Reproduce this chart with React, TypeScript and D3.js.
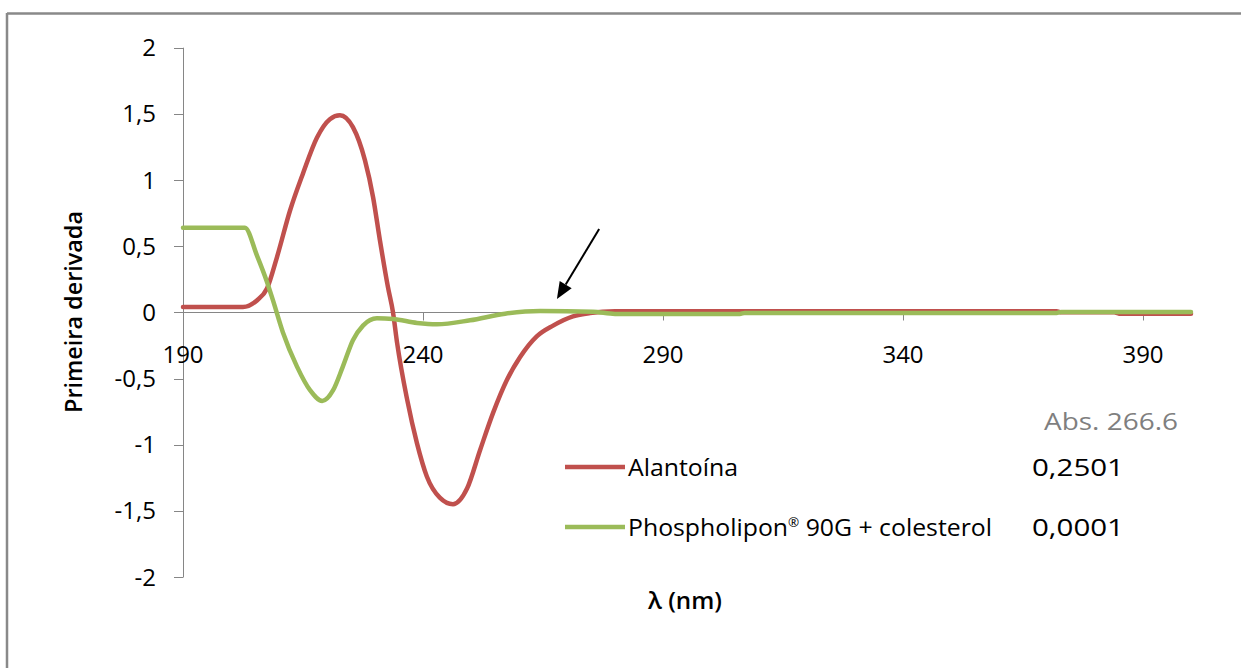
import React from "react";
import * as d3 from "d3";

// Alantoína (first derivative)
const redNm = [190, 202.5, 205.4, 207.5, 209.6, 212.3, 215.0, 217.9, 220.6, 222.7, 225.4, 227.9, 229.6, 231.0, 232.7, 233.75, 234.6, 236.7, 238.75, 240.8, 243.5, 246.25, 249.2, 251.9, 254.6, 257.5, 260.2, 263.75, 267.1, 271.25, 274.8, 280, 372, 373, 384, 385, 400];
const redVal = [0.04, 0.04, 0.09, 0.18, 0.42, 0.77, 1.05, 1.32, 1.46, 1.49, 1.40, 1.15, 0.87, 0.55, 0.19, 0.0, -0.23, -0.66, -0.99, -1.24, -1.40, -1.45, -1.33, -1.04, -0.76, -0.51, -0.34, -0.18, -0.10, -0.03, -0.005, 0.008, 0.008, 0, 0, -0.01, -0.01];

// Phospholipon 90G + colesterol
const greenNm = [190, 202.9, 205.4, 207.5, 208.75, 210.8, 213.75, 216.5, 219.0, 221.25, 223.3, 225.4, 227.5, 230.4, 233.75, 238.75, 242.9, 249.8, 257.1, 264.4, 275.4, 280, 306, 307, 372, 373, 400];
const greenVal = [0.64, 0.64, 0.43, 0.23, 0.09, -0.15, -0.41, -0.59, -0.67, -0.59, -0.41, -0.21, -0.10, -0.045, -0.05, -0.08, -0.09, -0.06, -0.01, 0.01, 0.005, -0.012, -0.012, -0.004, -0.004, 0.003, 0.003];

const xTicks = [190, 240, 290, 340, 390];
const yTicks = [2, 1.5, 1, 0.5, 0, -0.5, -1, -1.5, -2];

const seriesNames = ["Alantoína", "Phospholipon® 90G + colesterol"];
const seriesAbs = ["0,2501", "0,0001"];
const absHeader = "Abs. 266.6";

// arrow annotation (data coords): start -> tip
const arrowStart = [276.7, 0.63];
const arrowTip = [267.9, 0.10];

const RED = "#C0504D";
const GREEN = "#9BBB59";
const AXIS = "#868686";
const FONT = "'Open Sans', 'Liberation Sans', sans-serif";

export default function App() {
  const W = 1241, H = 668;
  const x = d3.scaleLinear().domain([190, 400]).range([183, 1191]);
  const y = d3.scaleLinear().domain([-2, 2]).range([577, 47.7]);

  const line = d3
    .line<[number, number]>()
    .x((d) => x(d[0]))
    .y((d) => y(d[1]))
    .curve(d3.curveMonotoneX);

  const redPts = redNm.map((n, i) => [n, redVal[i]] as [number, number]);
  const greenPts = greenNm.map((n, i) => [n, greenVal[i]] as [number, number]);

  const fmt = (v: number) => String(v).replace(".", ",");

  // arrow geometry
  const sx = x(arrowStart[0]), sy = y(arrowStart[1]);
  const tx = x(arrowTip[0]), ty = y(arrowTip[1]);
  const dx = tx - sx, dy = ty - sy;
  const len = Math.hypot(dx, dy);
  const ux = dx / len, uy = dy / len;
  const hl = 17, hw = 7;
  const bx = tx - hl * ux, by = ty - hl * uy;
  const nx = -uy, ny = ux;

  const y0 = Math.round(y(0)) + 0.5;

  return (
    <svg
      width={W}
      height={H}
      style={{ position: "absolute", left: 0, top: 0, background: "#fff" }}
      fontFamily={FONT}
    >
      <rect x={0} y={0} width={W} height={H} fill="#fff" />
      {/* frame */}
      <line x1={7} y1={13.5} x2={W} y2={13.5} stroke="#898989" strokeWidth={2.5} />
      <line x1={7} y1={13} x2={7} y2={H} stroke="#898989" strokeWidth={2.5} />

      {/* y axis */}
      <line x1={183.5} y1={y(2)} x2={183.5} y2={y(-2)} stroke={AXIS} strokeWidth={1} />
      {yTicks.map((t) => (
        <g key={"y" + t}>
          <line x1={174} x2={183.5} y1={Math.round(y(t)) + 0.5} y2={Math.round(y(t)) + 0.5} stroke={AXIS} />
          <text x={156} y={y(t) + 8.5} textAnchor="end" fontSize={24} fill="#000">
            {fmt(t)}
          </text>
        </g>
      ))}

      {/* x axis */}
      <line x1={183} y1={y0} x2={1191} y2={y0} stroke={AXIS} strokeWidth={1} />
      {xTicks.map((t) => (
        <g key={"x" + t}>
          <line x1={Math.round(x(t)) + 0.5} x2={Math.round(x(t)) + 0.5} y1={y0} y2={y0 + 8} stroke={AXIS} />
          <text x={x(t)} y={362.5} textAnchor="middle" fontSize={24} fill="#000">
            {t}
          </text>
        </g>
      ))}

      {/* series */}
      <path d={line(redPts) || ""} fill="none" stroke={RED} strokeWidth={4.5} strokeLinejoin="round" strokeLinecap="round" />
      <path d={line(greenPts) || ""} fill="none" stroke={GREEN} strokeWidth={4.5} strokeLinejoin="round" strokeLinecap="round" />

      {/* axis titles */}
      <text
        transform="translate(82,312) rotate(-90)"
        textAnchor="middle"
        fontSize={24}
        fontWeight={600}
        textLength={202}
        lengthAdjust="spacingAndGlyphs"
        fill="#000"
      >
        Primeira derivada
      </text>
      <text x={648} y={609} fontSize={24} fontWeight={600} textLength={74} lengthAdjust="spacingAndGlyphs" fill="#000">
        λ (nm)
      </text>

      {/* arrow */}
      <line x1={sx} y1={sy} x2={bx} y2={by} stroke="#000" strokeWidth={2} />
      <polygon
        points={`${tx},${ty} ${bx + hw * nx},${by + hw * ny} ${bx - hw * nx},${by - hw * ny}`}
        fill="#000"
      />

      {/* legend / table */}
      <text x={1044} y={430} fontSize={24} fill="#7F7F7F" textLength={134} lengthAdjust="spacingAndGlyphs">
        {absHeader}
      </text>
      {seriesNames.map((name, i) => {
        const cy = 467 + i * 60;
        const col = i === 0 ? RED : GREEN;
        return (
          <g key={name}>
            <line x1={565} x2={625} y1={cy} y2={cy} stroke={col} strokeWidth={4.5} />
            <text
              x={628}
              y={cy + 8.5}
              fontSize={24}
              fill="#000"
              textLength={i === 0 ? 110 : 364}
              lengthAdjust="spacingAndGlyphs"
            >
              {i === 0 ? (
                name
              ) : (
                <>
                  Phospholipon
                  <tspan fontSize={13} dy={-9}>®</tspan>
                  <tspan dy={9}> 90G + colesterol</tspan>
                </>
              )}
            </text>
            <text x={1032} y={cy + 8.5} fontSize={24} fill="#000" textLength={92} lengthAdjust="spacingAndGlyphs">
              {seriesAbs[i]}
            </text>
          </g>
        );
      })}
    </svg>
  );
}
